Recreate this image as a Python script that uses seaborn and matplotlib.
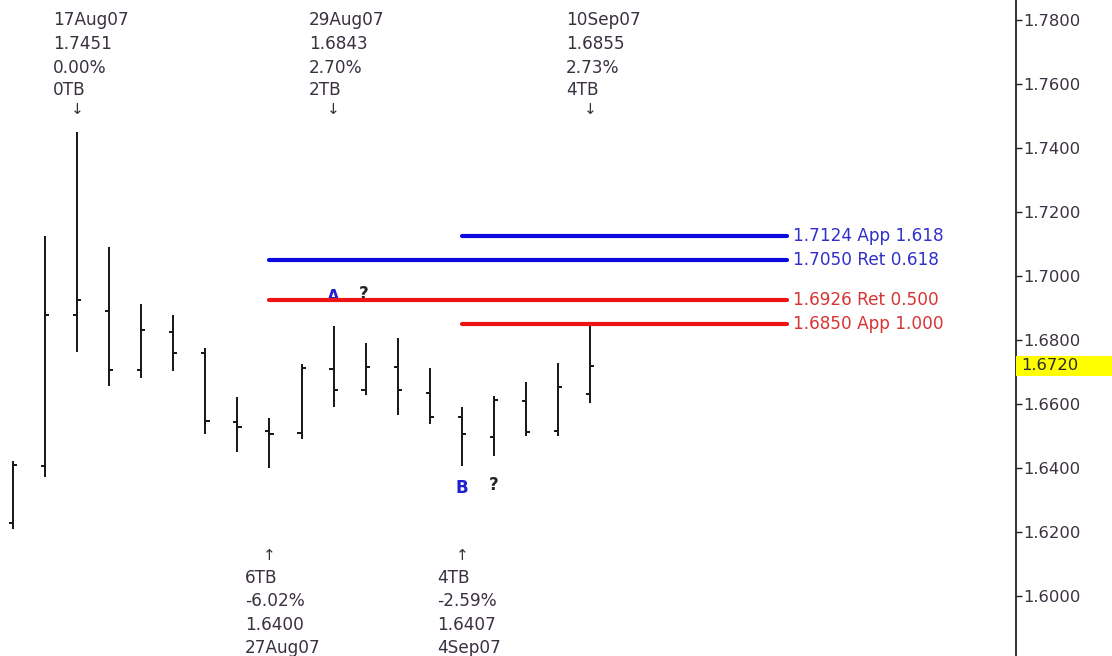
import matplotlib
matplotlib.use("Agg")
import matplotlib.pyplot as plt
import matplotlib.transforms as mtransforms
from matplotlib.patches import Rectangle
import seaborn as sns
import pandas as pd

# ---------------- data ----------------
dates = ["15Aug07", "16Aug07", "17Aug07", "20Aug07", "21Aug07", "22Aug07", "23Aug07",
         "24Aug07", "27Aug07", "28Aug07", "29Aug07", "30Aug07", "31Aug07", "3Sep07",
         "4Sep07", "5Sep07", "6Sep07", "7Sep07", "10Sep07"]
opens = [1.6228, 1.6406, 1.6878, 1.6891, 1.6706, 1.6825, 1.6759, 1.6544, 1.6516, 1.6509,
         1.6709, 1.6644, 1.6716, 1.6634, 1.6559, 1.6497, 1.6609, 1.6516, 1.6631]
highs = [1.6422, 1.7125, 1.7451, 1.7091, 1.6913, 1.6878, 1.6775, 1.6622, 1.6556, 1.6725,
         1.6843, 1.6791, 1.6806, 1.6713, 1.6591, 1.6625, 1.6669, 1.6728, 1.6855]
lows = [1.6209, 1.6372, 1.6763, 1.6656, 1.6681, 1.6703, 1.6506, 1.6450, 1.6400, 1.6491,
        1.6591, 1.6628, 1.6566, 1.6538, 1.6407, 1.6438, 1.6500, 1.6500, 1.6603]
closes = [1.6409, 1.6878, 1.6925, 1.6706, 1.6831, 1.6759, 1.6547, 1.6528, 1.6506, 1.6713,
          1.6644, 1.6716, 1.6644, 1.6559, 1.6506, 1.6613, 1.6513, 1.6653, 1.6720]

level_values = [1.7124, 1.7050, 1.6926, 1.6850]
level_labels = ["1.7124 App 1.618", "1.7050 Ret 0.618", "1.6926 Ret 0.500", "1.6850 App 1.000"]
level_start = ["4Sep07", "27Aug07", "27Aug07", "4Sep07"]
level_kind = ["blue", "blue", "red", "red"]

top_swings = ["17Aug07", "29Aug07", "10Sep07"]
top_texts = [["17Aug07", "1.7451", "0.00%", "0TB"],
             ["29Aug07", "1.6843", "2.70%", "2TB"],
             ["10Sep07", "1.6855", "2.73%", "4TB"]]
bottom_swings = ["27Aug07", "4Sep07"]
bottom_texts = [["6TB", "-6.02%", "1.6400", "27Aug07"],
                ["4TB", "-2.59%", "1.6407", "4Sep07"]]

yticks = [1.60, 1.62, 1.64, 1.66, 1.68, 1.70, 1.72, 1.74, 1.76, 1.78]
last_price = 1.6720

# ---------------- figure ----------------
sns.set_theme(style="white")
plt.rcParams["font.family"] = ["DejaVu Sans"]

W, H = 1112, 656
fig = plt.figure(figsize=(W / 100, H / 100), dpi=100)
fig.patch.set_facecolor("white")
ax = fig.add_axes([0, 0, 1016 / W, 1])
ax.set_facecolor("white")

df = pd.DataFrame({"date": dates, "open": opens, "high": highs, "low": lows, "close": closes})
df["x"] = range(len(df))
pos = dict(zip(df["date"], df["x"]))

bar_color = "#151515"
tick_w = 0.13
ax.vlines(df["x"], df["low"], df["high"], color=bar_color, lw=1.4, zorder=3)
ax.hlines(df["open"], df["x"] - tick_w, df["x"], color=bar_color, lw=1.4, zorder=3)
ax.hlines(df["close"], df["x"], df["x"] + tick_w, color=bar_color, lw=1.4, zorder=3)

# Fibonacci levels
line_colors = {"blue": "#0a0adf", "red": "#ec1414"}
text_colors = {"blue": "#3030c8", "red": "#d83434"}
end_x = 24.15
FS = 12.2
for v, lab, s, k in zip(level_values, level_labels, level_start, level_kind):
    sns.lineplot(x=[pos[s], end_x], y=[v, v], color=line_colors[k], lw=3.0,
                 solid_capstyle="round", legend=False, ax=ax, zorder=4)
    ax.text(end_x + 0.18, v, lab, color=text_colors[k], fontsize=FS,
            ha="left", va="center", zorder=5)

# swing annotations
txt_color = "#3a3040"
blend = mtransforms.blended_transform_factory(ax.transData, ax.transAxes)
top_rows = [20, 44, 68, 90]
for d, lines in zip(top_swings, top_texts):
    xi = pos[d]
    for r, t in zip(top_rows, lines):
        ax.text(xi - 0.76, 1 - r / H, t, transform=blend, ha="left", va="center",
                fontsize=FS, color=txt_color)
    ax.text(xi, 1 - 109 / H, "\u2193", transform=blend, ha="center", va="center",
            fontsize=11, color=txt_color)

bottom_rows = [578, 601, 625, 648]
for d, lines in zip(bottom_swings, bottom_texts):
    xi = pos[d]
    ax.text(xi, 1 - 556 / H, "\u2191", transform=blend, ha="center", va="center",
            fontsize=11, color=txt_color)
    for r, t in zip(bottom_rows, lines):
        ax.text(xi - 0.76, 1 - r / H, t, transform=blend, ha="left", va="center",
                fontsize=FS, color=txt_color)

# A / B markers
ax.text(pos["29Aug07"], 1.6933, "A", color="#2020d0", fontsize=12, fontweight="bold",
        ha="center", va="center", zorder=2)
ax.text(pos["29Aug07"] + 0.95, 1.6944, "?", color="#222222", fontsize=12, fontweight="bold",
        ha="center", va="center", zorder=2)
ax.text(pos["4Sep07"], 1.63375, "B", color="#2020d0", fontsize=12, fontweight="bold",
        ha="center", va="center", zorder=2)
ax.text(pos["4Sep07"] + 1.0, 1.6347, "?", color="#222222", fontsize=12, fontweight="bold",
        ha="center", va="center", zorder=2)

# axes
ax.set_xlim(-0.4055, 31.285)
ax.set_ylim(1.58125, 1.78625)
ax.set_xticks([])
ax.yaxis.tick_right()
ax.set_yticks(yticks)
ax.set_yticklabels([f"{v:.4f}" for v in yticks])
ax.tick_params(axis="y", direction="out", length=4, width=1, color="#222222",
               labelsize=11.8, labelcolor=txt_color, pad=1, right=True, left=False)
for s in ["top", "left", "bottom"]:
    ax.spines[s].set_visible(False)
ax.spines["right"].set_color("#111111")
ax.spines["right"].set_linewidth(1.2)
ax.grid(False)

# last-price marker on axis
yblend = mtransforms.blended_transform_factory(ax.transAxes, ax.transData)
ax.add_patch(Rectangle((1.0, last_price - 0.0034), 96 / 1016, 0.0064, transform=yblend,
                       facecolor="#ffff00", edgecolor="none", clip_on=False, zorder=6))
ax.text(1.0 + 5 / 1016, last_price, f"{last_price:.4f}", transform=yblend, ha="left",
        va="center", fontsize=11.8, color="#2a2a2a", zorder=7, clip_on=False)

fig.savefig("out.png", dpi=100, facecolor="white")
